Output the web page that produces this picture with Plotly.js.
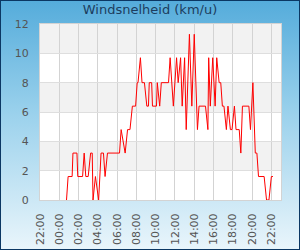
<!DOCTYPE html>
<html>
<head>
<meta charset="utf-8">
<script src="https://cdn.plot.ly/plotly-3.0.1.min.js"></script>
<style>
  html, body { margin: 0; padding: 0; }
  #chart {
    width: 300px; height: 250px; box-sizing: border-box;
    border: 1px solid #0b3763;
    background: linear-gradient(to bottom, #55acdb 0%, #9ad1ec 45%, #e9f5fb 100%);
  }
</style>
</head>
<body>
<div id="chart"></div>
<script>
// Times (local clock, day after the 22:00 start) and wind speed in km/u
const times = ["00:45","00:55","01:20","01:25","01:50","01:55","02:25","02:35","02:45","03:00",
  "03:15","03:25","03:30","03:45","04:05","04:20","04:35","04:45","05:00","06:15",
  "06:25","06:50","07:05","07:20","07:35","07:55","08:05","08:10","08:25","08:35",
  "08:50","09:05","09:15","09:20","09:35","09:40","10:05","10:10","10:25","10:35",
  "11:20","11:30","11:50","12:10","12:20","12:35","12:45","13:00","13:10","13:30",
  "13:45","14:00","14:20","14:30","15:10","15:25","15:30","15:40","15:55","16:10",
  "16:20","16:35","16:45","16:55","17:05","17:20","17:30","17:45","17:55","18:10",
  "18:20","18:40","18:50","19:00","19:40","19:50","20:05","20:15","20:20","20:30",
  "20:40","21:15","21:30","21:45","22:00","22:10"];
const windSpeed = [0,1.6,1.6,3.2,3.2,1.6,1.6,3.2,1.6,1.6,
  3.2,3.2,0,1.6,0,3.2,3.2,1.6,3.2,3.2,
  4.8,3.2,4.8,4.8,6.4,6.4,8.0,8.0,9.7,8.0,
  8.0,6.4,6.4,8.0,8.0,6.4,6.4,8.0,6.4,8.0,
  8.0,9.7,6.4,9.7,8.0,9.7,6.4,9.7,4.8,11.3,
  6.4,11.3,4.8,6.4,6.4,4.8,9.7,6.4,9.7,6.4,
  9.7,8.0,8.0,6.4,6.4,4.8,6.4,4.8,4.8,6.4,
  4.8,4.8,3.2,6.4,6.4,4.8,8.0,4.8,3.2,3.2,
  1.6,1.6,0,0,1.6,1.6];
const dataDate = "2024-05-02";
const rangeStart = "2024-05-01 22:00";
const rangeEnd = "2024-05-02 23:00";
const yTicks = [0,2,4,6,8,10,12];
const bandRanges = [[2,4],[6,8],[10,12]];

const xs = times.map(t => dataDate + " " + t);

const shapes = bandRanges.map(b => ({
  type: "rect", xref: "paper", yref: "y", x0: 0, x1: 1, y0: b[0], y1: b[1],
  fillcolor: "#f2f2f2", line: {width: 0}, layer: "below"
}));

const trace = {
  x: xs, y: windSpeed, type: "scatter", mode: "lines",
  line: {color: "#ff0000", width: 1}, hoverinfo: "skip"
};

const layout = {
  width: 298, height: 248,
  margin: {l: 39, r: 18, t: 23, b: 49, pad: 0},
  paper_bgcolor: "rgba(0,0,0,0)",
  plot_bgcolor: "#ffffff",
  showlegend: false,
  font: {family: "DejaVu Sans", size: 11, color: "#555555"},
  title: {text: "Windsnelheid (km/u)", font: {family: "DejaVu Sans", size: 13, color: "#1c3d5e"},
          x: 0.5, xanchor: "center", y: 0.985, yanchor: "top", yref: "container"},
  shapes: shapes,
  xaxis: {
    type: "date", range: [rangeStart, rangeEnd],
    tick0: rangeStart, dtick: 7200000, tickformat: "%H:%M", tickangle: -90,
    showgrid: true, gridcolor: "#d3d3d3", gridwidth: 1,
    showline: true, linecolor: "#d3d3d3", linewidth: 1, mirror: true,
    ticks: "", zeroline: false, ticklabelstandoff: 8,
    tickfont: {family: "DejaVu Sans", size: 11, color: "#555555"}
  },
  yaxis: {
    range: [0, 12], tickvals: yTicks, ticktext: yTicks.map(String),
    showgrid: true, gridcolor: "#dedede", gridwidth: 1,
    showline: true, linecolor: "#d3d3d3", linewidth: 1, mirror: true,
    ticks: "", zeroline: false, ticklabelstandoff: 8,
    tickfont: {family: "DejaVu Sans", size: 11, color: "#555555"}
  }
};

Plotly.newPlot("chart", [trace], layout, {staticPlot: true, displayModeBar: false});
</script>
</body>
</html>
